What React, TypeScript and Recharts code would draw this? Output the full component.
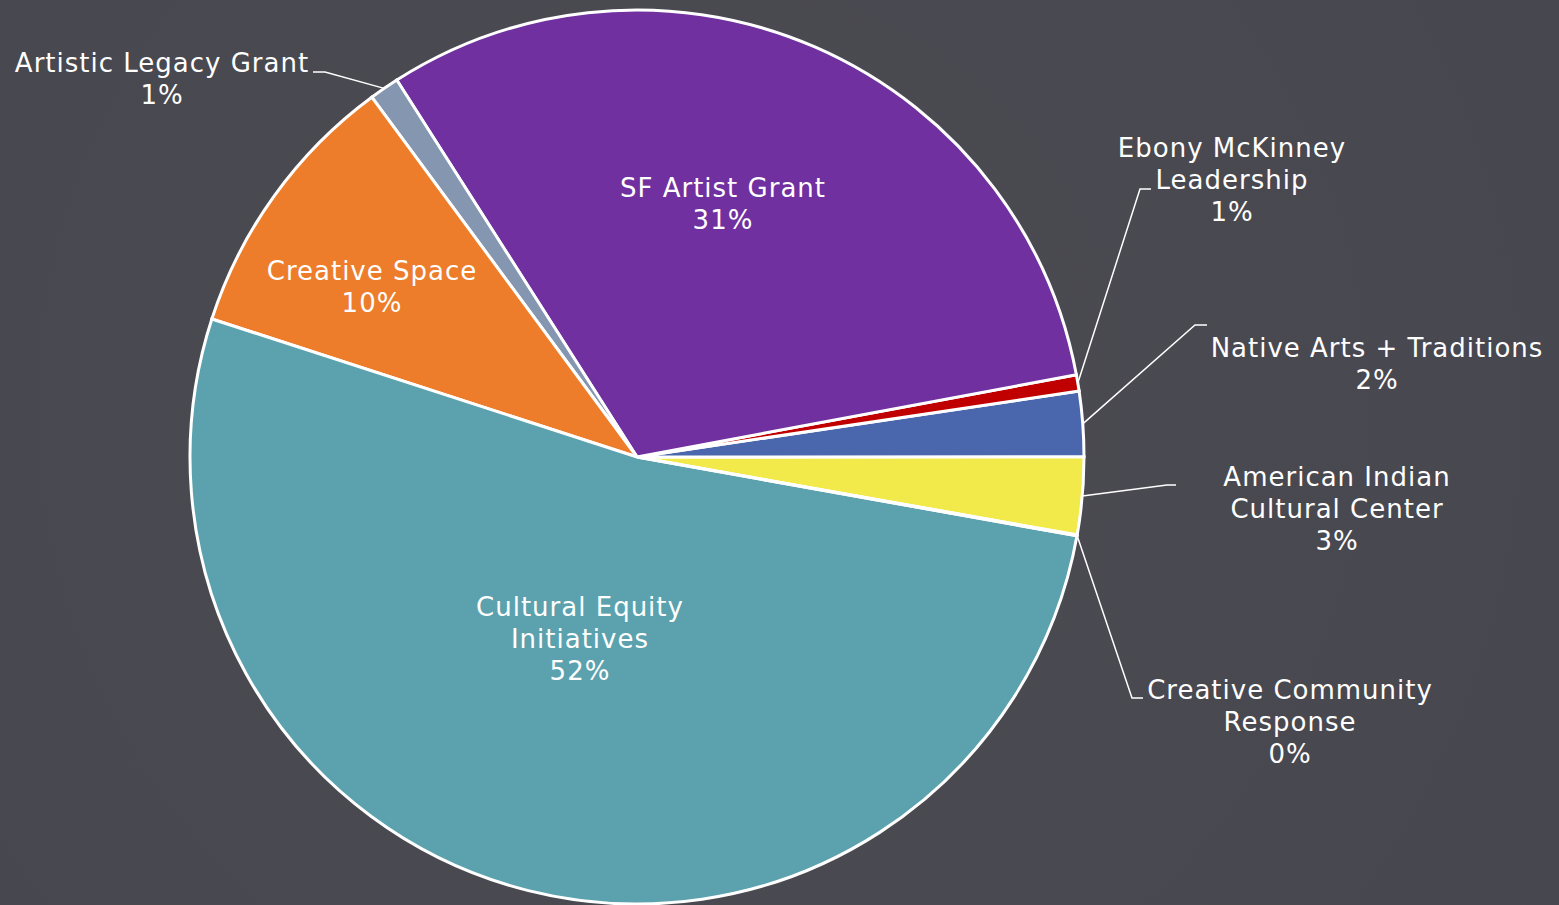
import { PieChart, Pie, Cell } from "recharts";

// slices in drawing order (counter-clockwise from the teal/yellow seam)
const categories = [
  "American Indian\nCultural Center",
  "Native Arts + Traditions",
  "Ebony McKinney\nLeadership",
  "SF Artist Grant",
  "Artistic Legacy Grant",
  "Creative Space",
  "Cultural Equity\nInitiatives",
  "Creative Community\nResponse",
];
const shares = [2.8, 2.35, 0.59, 31.1, 1.08, 9.9, 52.2, 0.03];

const COLORS = [
  "#f2ea4a",
  "#4a66ad",
  "#c00000",
  "#7030a0",
  "#8496b0",
  "#ed7d2a",
  "#5ba2ae",
  "#ffffff",
];

// label placement (centre of first text line, optional leader elbow + end)
const LABEL_LAYOUT: { x: number; y: number; elbow?: number[]; end?: number[] }[] = [
  { x: 1337, y: 477, elbow: [1167, 485], end: [1176, 485] },
  { x: 1377, y: 348, elbow: [1195, 325], end: [1207, 325] },
  { x: 1232, y: 148, elbow: [1140, 189], end: [1151, 189] },
  { x: 723, y: 188 },
  { x: 162, y: 63, elbow: [325, 72], end: [313, 72] },
  { x: 372, y: 271 },
  { x: 580, y: 607 },
  { x: 1290, y: 690, elbow: [1132, 698], end: [1143, 698] },
];

const data = categories.map((name, i) => ({ name, value: shares[i] }));

const RADIAN = Math.PI / 180;
const LINE_H = 32;

function renderLabel(props: any) {
  const { cx, cy, midAngle, outerRadius, percent, index } = props;
  const layout = LABEL_LAYOUT[index];
  const lines = [...categories[index].split("\n"), `${Math.round(percent * 100)}%`];
  let leader = null;
  if (layout.elbow && layout.end) {
    const sx = cx + outerRadius * Math.cos(-midAngle * RADIAN);
    const sy = cy + outerRadius * Math.sin(-midAngle * RADIAN);
    leader = (
      <polyline
        points={`${sx},${sy} ${layout.elbow[0]},${layout.elbow[1]} ${layout.end[0]},${layout.end[1]}`}
        fill="none"
        stroke="#ffffff"
        strokeWidth={1.5}
      />
    );
  }
  return (
    <g key={`label-${index}`}>
      {leader}
      <text
        x={layout.x}
        y={layout.y}
        textAnchor="middle"
        dominantBaseline="central"
        fill="#ffffff"
        style={{ fontFamily: "'DejaVu Sans', sans-serif", fontSize: 26, letterSpacing: 1 }}
      >
        {lines.map((line, i) => (
          <tspan key={i} x={layout.x} dy={i === 0 ? 0 : LINE_H}>
            {line}
          </tspan>
        ))}
      </text>
    </g>
  );
}

export default function App() {
  return (
    <div
      style={{
        position: "absolute",
        left: 0,
        top: 0,
        width: 1559,
        height: 905,
        overflow: "hidden",
        background: "radial-gradient(circle at 45% 45%, #4c4b52 0%, #47474f 100%)",
      }}
    >
      <PieChart width={1559} height={905} margin={{ top: 0, right: 0, bottom: 0, left: 0 }}>
        <Pie
          data={data}
          dataKey="value"
          nameKey="name"
          cx={637}
          cy={457}
          outerRadius={447}
          startAngle={-10.05}
          endAngle={349.95}
          stroke="#ffffff"
          strokeWidth={3}
          label={renderLabel}
          labelLine={false}
          isAnimationActive={false}
        >
          {data.map((entry, index) => (
            <Cell key={entry.name} fill={COLORS[index]} />
          ))}
        </Pie>
      </PieChart>
    </div>
  );
}
